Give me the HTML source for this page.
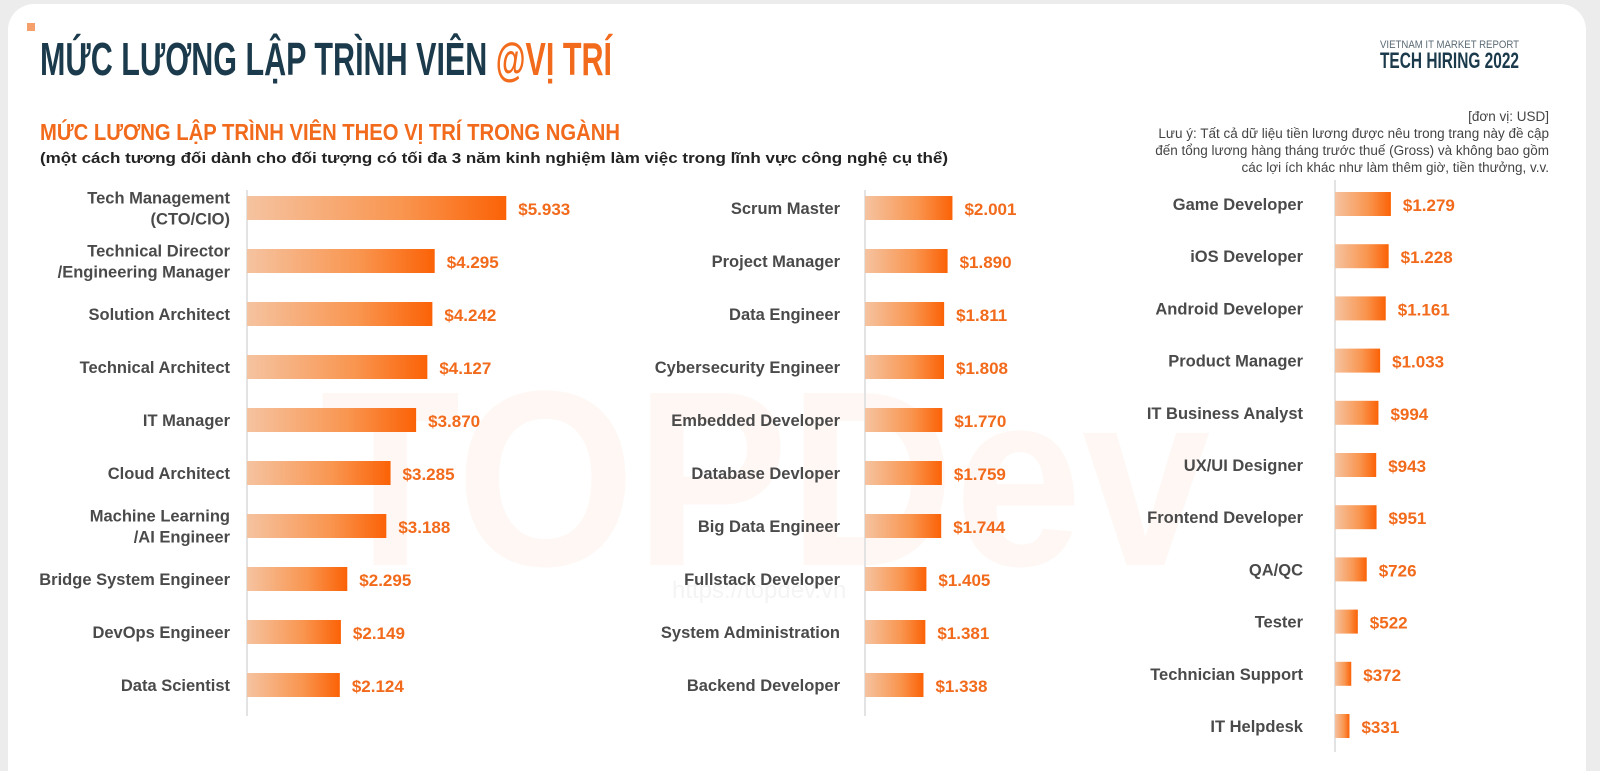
<!DOCTYPE html>
<html><head><meta charset="utf-8"><style>
html,body{margin:0;padding:0;background:#ececec;width:1600px;height:771px;overflow:hidden}
svg{display:block}
.lbl{font-family:"Liberation Sans",sans-serif;font-weight:bold;font-size:16.5px;fill:#4a4a4a}
.val{font-family:"Liberation Sans",sans-serif;font-weight:bold;font-size:17px;fill:#f26a1b}
</style></head><body>
<svg id="chart" width="1600" height="771" xmlns="http://www.w3.org/2000/svg">
<defs><linearGradient id="g" x1="0" x2="1" y1="0" y2="0"><stop offset="0" stop-color="#f5c3a0"/><stop offset="0.6" stop-color="#f9954f"/><stop offset="1" stop-color="#fb6206"/></linearGradient></defs>
<rect x="8" y="4" width="1578" height="800" rx="26" fill="#fff"/>
<text x="320" y="565" font-family="Liberation Sans,sans-serif" font-weight="bold" font-size="250" fill="#fef7f4" textLength="890" lengthAdjust="spacingAndGlyphs">TOPDev</text>
<text x="672" y="598" font-family="Liberation Sans,sans-serif" font-size="24" fill="#f4f4f4">https://topdev.vn</text>
<rect x="27" y="23" width="8" height="8" fill="#f5a06a"/>
<text x="40" y="75" font-family="Liberation Sans Narrow,Liberation Sans,sans-serif" font-weight="bold" font-size="46" fill="#1b3a4b" textLength="572" lengthAdjust="spacingAndGlyphs">MỨC LƯƠNG LẬP TRÌNH VIÊN <tspan fill="#f26a1b">@VỊ TRÍ</tspan></text>
<text x="1519" y="48" text-anchor="end" font-family="Liberation Sans Narrow,Liberation Sans,sans-serif" font-size="11" fill="#5a6a75" textLength="139" lengthAdjust="spacingAndGlyphs">VIETNAM IT MARKET REPORT</text>
<text x="1519" y="68" text-anchor="end" font-family="Liberation Sans Narrow,Liberation Sans,sans-serif" font-weight="bold" font-size="22" fill="#1b3a4b" textLength="139" lengthAdjust="spacingAndGlyphs">TECH HIRING 2022</text>
<text x="40" y="140" font-family="Liberation Sans Narrow,Liberation Sans,sans-serif" font-weight="bold" font-size="23" fill="#f26a1b" textLength="580" lengthAdjust="spacingAndGlyphs">MỨC LƯƠNG LẬP TRÌNH VIÊN THEO VỊ TRÍ TRONG NGÀNH</text>
<text x="40" y="163" font-family="Liberation Sans,sans-serif" font-weight="bold" font-size="15" fill="#222" textLength="908" lengthAdjust="spacingAndGlyphs">(một cách tương đối dành cho đối tượng có tối đa 3 năm kinh nghiệm làm việc trong lĩnh vực công nghệ cụ thể)</text>
<g font-family="Liberation Sans,sans-serif" font-size="13.5" fill="#444" text-anchor="end">
<text x="1549" y="121">[đơn vị: USD]</text>
<text x="1549" y="138">Lưu ý: Tất cả dữ liệu tiền lương được nêu trong trang này đề cập</text>
<text x="1549" y="155">đến tổng lương hàng tháng trước thuế (Gross) và không bao gồm</text>
<text x="1549" y="172">các lợi ích khác như làm thêm giờ, tiền thưởng, v.v.</text>
</g>
<g id="bars"></g>
</svg>
<script>
const col1Labels=[["Tech Management","(CTO/CIO)"],["Technical Director","/Engineering Manager"],["Solution Architect"],["Technical Architect"],["IT Manager"],["Cloud Architect"],["Machine Learning","/AI Engineer"],["Bridge System Engineer"],["DevOps Engineer"],["Data Scientist"]];
const col1Values=[5933,4295,4242,4127,3870,3285,3188,2295,2149,2124];
const col2Labels=[["Scrum Master"],["Project Manager"],["Data Engineer"],["Cybersecurity Engineer"],["Embedded Developer"],["Database Devloper"],["Big Data Engineer"],["Fullstack Developer"],["System Administration"],["Backend Developer"]];
const col2Values=[2001,1890,1811,1808,1770,1759,1744,1405,1381,1338];
const col3Labels=[["Game Developer"],["iOS Developer"],["Android Developer"],["Product Manager"],["IT Business Analyst"],["UX/UI Designer"],["Frontend Developer"],["QA/QC"],["Tester"],["Technician Support"],["IT Helpdesk"]];
const col3Values=[1279,1228,1161,1033,994,943,951,726,522,372,331];
const NS="http://www.w3.org/2000/svg";
const g=document.getElementById('bars');
const fmt=v=>"$"+(v>=1000?Math.floor(v/1000)+"."+String(v%1000).padStart(3,"0"):v);
const xScale=(v,x0)=>x0+v*0.0437;
function mk(t,a){const e=document.createElementNS(NS,t);for(const k in a)e.setAttribute(k,a[k]);g.appendChild(e);return e;}
function col(labels,values,x0,labelX,y0,step,axisTop,axisBot,key){
  const ax=mk('line',{x1:x0,x2:x0,y1:axisTop,y2:axisBot,stroke:'#e3e3e3','stroke-width':2});
  
  
  values.forEach((v,i)=>{
    const cy=y0+i*step;
    const r=mk('rect',{x:x0,y:cy-12,width:xScale(v,x0)-x0,height:24,fill:'url(#g)'});
    
    
    const t=mk('text',{x:xScale(v,x0)+12,y:cy+7,class:'val'});t.textContent=fmt(v);
    
    
    const L=labels[i];
    L.forEach((s,j)=>{
      const lt=mk('text',{x:labelX,y:cy+6+(j-(L.length-1)/2)*21,class:'lbl','text-anchor':'end'});lt.textContent=s;
      
      
    });
  });
}
col(col1Labels,col1Values,247,230,208,53,190,716,'col1');
col(col2Labels,col2Values,865,840,208,53,190,716,'col2');
col(col3Labels,col3Values,1335,1303,204,52.2,180,752,'col3');
</script>
</body></html>
